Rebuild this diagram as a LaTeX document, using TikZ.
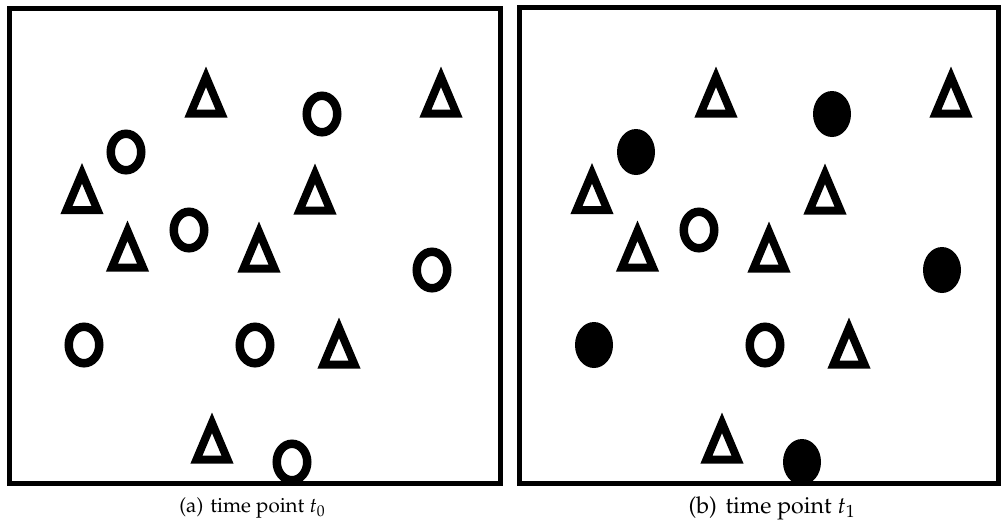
\documentclass[tikz,border=0pt]{standalone}
\usepackage[T1]{fontenc}
\usepackage{mathpazo}
\usepackage{tikz}
\usetikzlibrary{shapes.geometric}

\begin{document}
\begin{tikzpicture}[x=0.02cm, y=-0.02cm,
            frame/.style={draw=black, line width=0.1cm},
            hollowdot/.style={ellipse, draw=black, line width=0.17cm,
            inner sep=0pt, minimum width=0.61cm, minimum height=0.73cm},
            fulldot/.style={ellipse, fill=black, draw=none,
            inner sep=0pt, minimum width=0.76cm, minimum height=0.92cm},
            tri/.pic={\draw[line width=0.16cm, line join=miter]
              (0,-15.2) -- (15.5,21.5) -- (-15.5,21.5) -- cycle;},
            caption/.style={font=\fontsize{11.7}{13}\selectfont, inner sep=0pt}]
          \useasboundingbox (0,0) rectangle (1001,529);
          % frames
          \draw[frame] (9.5,8.5) rectangle (500,483);
          \draw[frame] (519.5,7) rectangle (998,483);
          % triangles, same in both panels
          \foreach \x/\y [count=\i] in {206/92, 441/92, 82/188.5, 315/189,
              127.5/246, 259/247, 339/343, 212/438} {
            \pic (ta\i) at (\x,\y) {tri};
            \pic (tb\i) at (\x+510,\y) {tri};
          }
          % circles at t0
          \foreach \x/\y [count=\i] in {322/114, 126/152, 189/230, 432/270,
              84/345, 255/345, 292/462}
            \node[hollowdot] (ca\i) at (\x,\y) {};
          % circles at t1
          \node[fulldot] (cb1) at (832,114) {};
          \node[fulldot] (cb2) at (636,152) {};
          \node[hollowdot] (cb3) at (699,230) {};
          \node[fulldot] (cb4) at (942,270) {};
          \node[fulldot] (cb5) at (594,345) {};
          \node[hollowdot] (cb6) at (765,345) {};
          \node[fulldot] (cb7) at (802,462) {};
          % captions
          \node[caption] (capa) at (252.5,508) {(a)\hspace{4pt}time point $t_0$};
          \node[caption, font=\fontsize{13.2}{15}\selectfont] (capb) at (772,508)
            {(b)\hspace{5pt}time point $t_1$};
        \end{tikzpicture}
\end{document}
